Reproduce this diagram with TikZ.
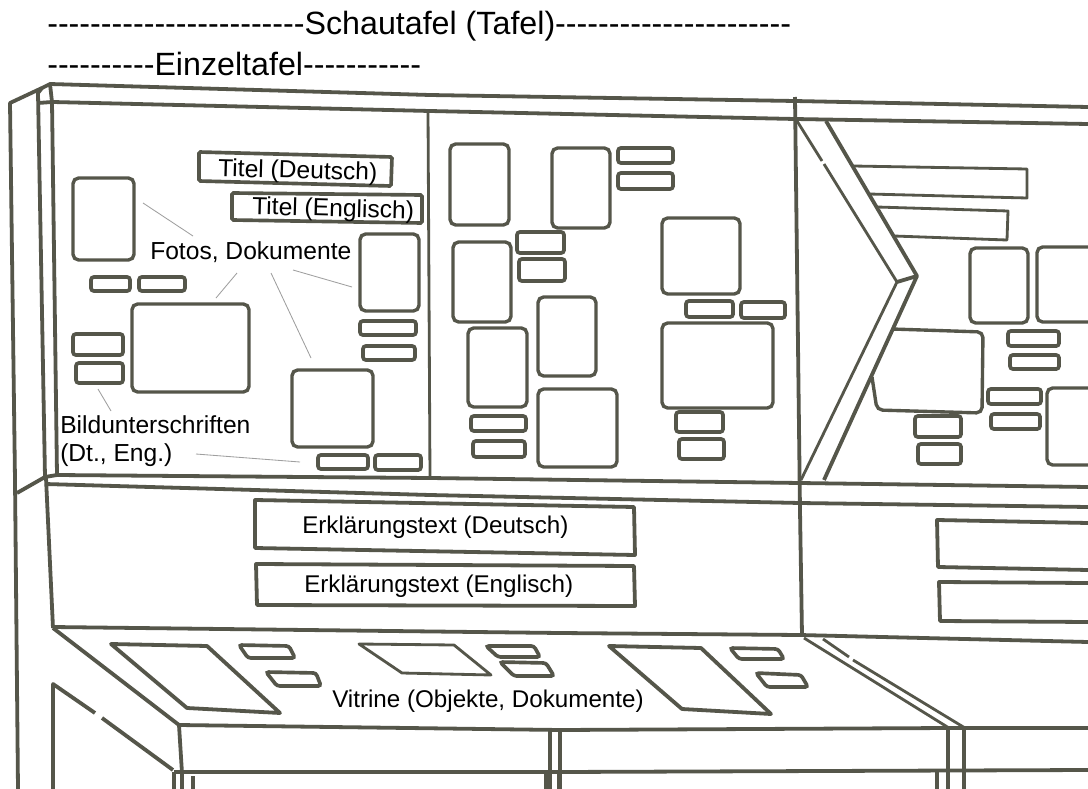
\documentclass[tikz,border=0pt]{standalone}
\usepackage{fontspec}
\usepackage{xcolor}
\usepackage{tikz}
\usetikzlibrary{positioning}
\newfontfamily\labelfont{Liberation Sans}
\definecolor{inkgrey}{HTML}{55564A}
\tikzset{
  frameline/.style={draw=inkgrey, line width=2.7pt, line join=round},
  thinframe/.style={draw=inkgrey, line width=2pt, line join=round},
  panelbox/.style={draw=inkgrey, line width=2.4pt, rounded corners=4pt},
  smallbox/.style={draw=inkgrey, line width=2.6pt, rounded corners=2pt},
  leader/.style={draw=gray!75, line width=0.6pt},
  labeltext/.style={font=\labelfont\fontsize{17.5}{20}\selectfont, inner sep=0pt, anchor=west, align=left},
  stripname/.style={labeltext, font=\labelfont\fontsize{17.2}{20}\selectfont},
  headtext/.style={font=\labelfont\fontsize{22.9}{27}\selectfont, inner sep=0pt, anchor=west}
}

\begin{document}
\begin{tikzpicture}[x=0.025cm, y=-0.025cm]
  \useasboundingbox (0,0) rectangle (1088,789);
  \fill[white] (0,0) rectangle (1088,789);

  % === HEADINGS ===
  \node[headtext] (schautafel) at (47,26) {------------------------Schautafel (Tafel)----------------------};
  \node[headtext] (einzeltafel) at (47,64) {----------Einzeltafel-----------};

  % === FRAME ===
  % Left column and top rails
  \draw[frameline] (18,789) -- (15,480) -- (10,103) -- (42,88) -- (50,84) -- (430,95) -- (795,101) -- (1088,107);
  \draw[frameline] (53,102) -- (430,111) -- (795,119) -- (1088,124);
  \draw[frameline] (42,88) -- (38,93) -- (45,477) -- (17,493);
  \draw[frameline] (50,84) -- (52,102) -- (57,475);
  \draw[frameline] (38,103) -- (52,102);
  \draw[frameline] (45,477) -- (57,475);

  % Rails under the panels
  \draw[frameline] (57,475) -- (430,478) -- (800,483) -- (1088,487);
  \draw[frameline] (45,484) -- (430,495) -- (800,503) -- (1088,507);
  \draw[thinframe] (428,110) -- (430,478);
  \draw[frameline] (795,97) -- (800,510) -- (802,635);
  \draw[frameline] (46,478) -- (53,628);

  % Chevron between the panels
  \draw[thinframe] (797,121) -- (822,161);
  \draw[thinframe] (824,164) -- (897,282) -- (801,480);
  \draw[frameline] (826,121) -- (917,276) -- (824,480);
  \draw[frameline] (897,282) -- (917,276);

  % Bars behind the chevron
  \draw[thinframe] (853,166) -- (1027,169) -- (1027,198) -- (869,194);
  \draw[thinframe] (877,207) -- (1008,211) -- (1007,240) -- (894,236);

  % === LEFT PANEL ===
  \draw[smallbox, rounded corners=1pt] (199,152) -- (392,157) -- (391,186) -- (199,181) -- cycle;
  \draw[smallbox, rounded corners=1pt] (232,193) -- (422,195) -- (422,223) -- (232,220) -- cycle;
  \foreach \xa/\ya/\xb/\yb in {73/178/134/260, 132/304/249/392, 292/370/373/447, 360/234/419/311} {
    \draw[panelbox] (\xa,\ya) rectangle (\xb,\yb);
  }
  \foreach \xa/\ya/\xb/\yb in {91/277/130/291, 139/277/185/291, 73/334/123/355, 76/363/123/383,
      360/321/416/335, 363/346/415/360, 318/455/368/469, 375/455/421/470} {
    \draw[smallbox] (\xa,\ya) rectangle (\xb,\yb);
  }

  % === MIDDLE PANEL ===
  \foreach \xa/\ya/\xb/\yb in {450/144/509/225, 552/148/610/228, 453/242/511/322, 538/297/596/376,
      468/328/527/407, 538/389/617/467, 662/218/740/294, 662/323/773/408} {
    \draw[panelbox] (\xa,\ya) rectangle (\xb,\yb);
  }
  \foreach \xa/\ya/\xb/\yb in {618/148/673/163, 618/173/673/189, 517/232/564/253, 519/259/565/281,
      471/416/526/431, 473/441/525/457, 686/301/733/317, 741/302/785/318,
      676/412/723/432, 679/439/724/459} {
    \draw[smallbox] (\xa,\ya) rectangle (\xb,\yb);
  }

  % === RIGHT PANEL ===
  \draw[panelbox] (892,329) -- (983,332) -- (982,413) -- (877,410) -- (872,377);
  \draw[panelbox] (1092,322) -- (1037,322) -- (1037,247) -- (1092,247);
  \draw[panelbox] (1092,465) -- (1047,465) -- (1047,388) -- (1092,388);
  \draw[panelbox] (970,248) rectangle (1028,323);
  \foreach \xa/\ya/\xb/\yb in {1008/331/1059/346, 1010/355/1059/369,
      988/389/1041/404, 991/414/1040/429, 915/416/961/437, 918/444/961/464} {
    \draw[smallbox] (\xa,\ya) rectangle (\xb,\yb);
  }

  % === TEXT STRIPS ===
  \draw[frameline] (255,500) -- (634,507) -- (635,555) -- (255,548) -- cycle;
  \draw[frameline] (256,564) -- (634,566) -- (635,606) -- (257,605) -- cycle;
  \draw[frameline] (1088,523) -- (937,520) -- (938,567) -- (1088,570);
  \draw[frameline] (1088,583) -- (939,582) -- (940,621) -- (1088,622);

  % === SHELF ===
  \draw[frameline] (53,627) -- (560,633) -- (800,635) -- (1088,642);
  \draw[frameline] (53,628) -- (179,725) -- (560,730) -- (949,728) -- (1088,728);
  \draw[frameline] (179,725) -- (182,773);
  \draw[frameline] (174,772) -- (560,772) -- (1088,770);
  \draw[thinframe] (804,638) -- (949,728);
  \draw[thinframe] (823,639) -- (849,657);
  \draw[thinframe] (853,660) -- (965,728);
  \draw[frameline] (53,789) -- (53,684) -- (95,713);
  \draw[frameline] (102,718) -- (173,770);

  % Legs below the shelf
  \foreach \xa/\ya in {174/772, 182/772, 193/776, 546/772, 559/772, 937/772} {
    \draw[frameline] (\xa,\ya) -- (\xa,789);
  }
  \foreach \xa in {550,560,948,964} {
    \draw[frameline] (\xa,730) -- (\xa,789);
  }

  % Display cases
  \draw[frameline] (111,644) -- (207,646) -- (280,713) -- (187,708) -- cycle;
  \draw[thinframe] (359,644) -- (454,645) -- (491,675) -- (402,673) -- cycle;
  \draw[frameline] (609,646) -- (701,648) -- (771,714) -- (682,709) -- cycle;
  \foreach \xa/\ya/\xb/\yb/\xc/\yc/\xd/\yd in {239/645/289/646/295/658/248/658,
      266/672/316/673/321/686/277/686, 486/646/534/646/540/657/498/657,
      500/662/546/663/554/676/514/676, 730/648/778/649/784/659/739/659,
      756/673/801/675/808/687/767/687} {
    \draw[smallbox] (\xa,\ya) -- (\xb,\yb) -- (\xc,\yc) -- (\xd,\yd) -- cycle;
  }

  % === LABELS ===
  \node[labeltext, rotate=-1.5] (titelde) at (218,170) {Titel (Deutsch)};
  \node[labeltext, rotate=-1.5] (titelen) at (252,208) {Titel (Englisch)};
  \node[labeltext] (fotos) at (150,252) {Fotos, Dokumente};
  \node[labeltext] (bildtext) at (60,441) {Bildunterschriften\\(Dt., Eng.)};
  \node[stripname] (erklde) at (302,527) {Erklärungstext (Deutsch)};
  \node[stripname] (erklen) at (304,586) {Erklärungstext (Englisch)};
  \node[stripname] (vitrine) at (332,701) {Vitrine (Objekte, Dokumente)};

  % Leader lines
  \foreach \name/\xa/\ya/\xb/\yb in {fa/143/203/193/236, fb/237/273/216/298, fc/271/273/311/358,
      fd/293/270/352/287, ba/98/389/111/411, bb/196/454/300/462} {
    \coordinate (\name s) at (\xa,\ya);
    \coordinate (\name e) at (\xb,\yb);
    \draw[leader] (\name s) -- (\name e);
  }
\end{tikzpicture}
\end{document}
